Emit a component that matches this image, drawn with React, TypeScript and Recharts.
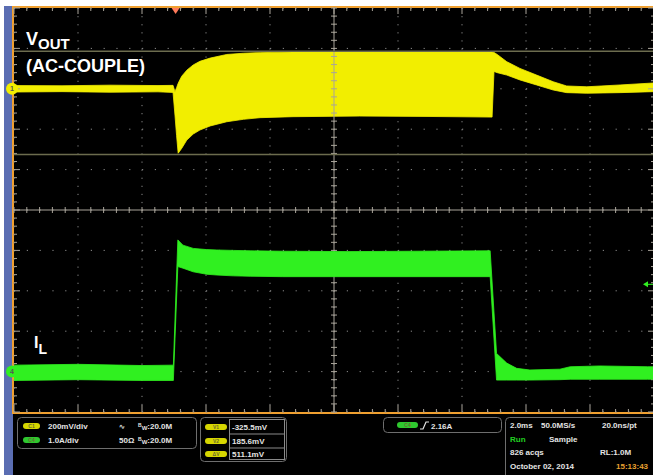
import React from "react";
import {
  ComposedChart,
  Area,
  XAxis,
  YAxis,
  CartesianGrid,
  ReferenceLine,
  ReferenceDot,
} from "recharts";

// horizontal: 2.0 ms/div, 10 divisions ; vertical: 10 divisions
const timeTicks = [0, 2, 4, 6, 8, 10, 12, 14, 16, 18, 20];
const divTicks = [-5, -4, -3, -2, -1, 0, 1, 2, 3, 4, 5];

// CH1 VOUT (AC couple), 200 mV/div, ground marker at +3 div
const ch1Offset = 3;
const ch1Scale = 200;
const voutTime = [0, 1.5, 3, 4.5, 4.97, 5.03, 5.08, 5.13, 5.24, 5.4, 5.6, 5.81, 6.13, 6.65, 7.17, 7.69, 8.72, 10.8, 13, 14.94, 15.0, 15.1, 15.4, 15.81, 16.33, 16.85, 17.27, 17.9, 18.94, 20];
const voutLow = [-16, -14, -17, -15, -18, -130, -230, -319, -295, -254, -224, -204, -184, -163, -151, -143, -138, -135, -137, -140, 86, 80, 68, 44, 19, -6, -19, -22, -19, -14];
const voutHigh = [16, 15, 18, 16, 17, -14, 5, 27, 62, 92, 118, 136, 152, 170, 176, 179, 182, 184, 183, 182, 180, 170, 134, 101, 68, 35, 14, 10, 19, 29];

// CH4 IL, 1.0 A/div, ground marker at -4 div
const ch4Offset = -4;
const ch4Scale = 1.0;
const ilTime = [0, 2, 4, 4.98, 5.12, 5.28, 5.6, 6.02, 6.34, 6.85, 7.38, 8.4, 10.5, 12.5, 14.88, 15.08, 15.4, 15.71, 16.12, 17.06, 17.38, 18.31, 19.8, 20];
const ilLow = [-0.22, -0.2, -0.22, -0.22, 2.6, 2.56, 2.47, 2.41, 2.39, 2.37, 2.36, 2.35, 2.35, 2.35, 2.35, -0.21, -0.21, -0.21, -0.21, -0.2, -0.19, -0.19, -0.19, -0.19];
const ilHigh = [0.16, 0.18, 0.15, 0.16, 3.26, 3.13, 3.05, 3.02, 3.01, 3.0, 2.99, 2.98, 2.97, 2.98, 2.99, 0.45, 0.21, 0.08, 0.04, 0.06, 0.12, 0.14, 0.12, 0.12];

// cursors (CH1) and trigger
const cursorV1 = -325.5;
const cursorV2 = 185.6;
const triggerTime = 5.05;
const triggerLevel = 2.16;

const voutData = voutTime.map((t, i) => ({
  t,
  v: [ch1Offset + voutLow[i] / ch1Scale, ch1Offset + voutHigh[i] / ch1Scale],
}));
const ilData = ilTime.map((t, i) => ({
  t,
  v: [ch4Offset + ilLow[i] / ch4Scale, ch4Offset + ilHigh[i] / ch4Scale],
}));

const W = 660;
const H = 475;
const margin = { top: 8, right: 6, bottom: 63, left: 14 };
const PX_T = 1 / 32; // one pixel in ms
const PX_D = 1 / 40.4; // one pixel in divisions

const YELLOW = "#f2ee00";
const GREEN = "#30f020";
const TICK = "#a9a49a";

const minorT = Array.from({ length: 51 }, (_, i) => i * 0.4);
const minorD = Array.from({ length: 51 }, (_, i) => -5 + i * 0.2);

// channel ground marker, sits on the left frame edge
const ChannelMarker = (props: any) => {
  const { cx, cy, fill, label } = props;
  const x = cx - 2;
  return (
    <g>
      <circle cx={x} cy={cy} r={6} fill={fill} />
      <text x={x} y={cy + 2.5} textAnchor="middle" fontSize={7} fontWeight="bold" fill="#555" fontFamily="Liberation Sans">
        {label}
      </text>
      <path d={`M${x + 8} ${cy - 2.5} L${x + 12} ${cy} L${x + 8} ${cy + 2.5}`} stroke={fill} fill="none" strokeWidth={1} />
    </g>
  );
};

const TriggerPos = (props: any) => {
  const { cx, cy } = props;
  return <path d={`M${cx - 4} ${cy} L${cx + 4} ${cy} L${cx} ${cy + 6} Z`} fill="#ff7a5a" />;
};

const TriggerLevel = (props: any) => {
  const { cx, cy } = props;
  return (
    <g>
      <path d={`M${cx - 3} ${cy} L${cx + 2} ${cy - 3} L${cx + 2} ${cy + 3} Z`} fill={GREEN} />
      <line x1={cx + 2} y1={cy} x2={cx + 8} y2={cy} stroke={GREEN} strokeWidth={1} />
    </g>
  );
};

const axes = (
  <>
    <XAxis type="number" dataKey="t" domain={[0, 20]} ticks={timeTicks} hide />
    <YAxis type="number" domain={[-5, 5]} ticks={divTicks} hide />
  </>
);

const ScopeGrid = () => (
  <ComposedChart width={W} height={H} margin={margin} data={voutData}>
    {axes}
    <CartesianGrid horizontal={false} stroke="#8a8a8a" strokeDasharray="1.2 6.88" />
    <CartesianGrid vertical={false} stroke="#8a8a8a" strokeDasharray="1.2 11.6" />
    <ReferenceLine x={10} stroke={TICK} strokeWidth={1} />
    <ReferenceLine y={0} stroke={TICK} strokeWidth={1} />
    {minorT.map((t, i) => (
      <ReferenceLine key={"c" + i} segment={[{ x: t, y: -3 * PX_D }, { x: t, y: 3 * PX_D }]} stroke={TICK} />
    ))}
    {minorD.map((d, i) => (
      <ReferenceLine key={"m" + i} segment={[{ x: 10 - 3 * PX_T, y: d }, { x: 10 + 3 * PX_T, y: d }]} stroke={TICK} />
    ))}
    {minorT.map((t, i) => (
      <ReferenceLine key={"t" + i} segment={[{ x: t, y: 5 }, { x: t, y: 5 - (i % 5 === 0 ? 6 : 3) * PX_D }]} stroke={TICK} />
    ))}
    {minorT.map((t, i) => (
      <ReferenceLine key={"b" + i} segment={[{ x: t, y: -5 }, { x: t, y: -5 + (i % 5 === 0 ? 7 : 3) * PX_D }]} stroke={TICK} />
    ))}
    {minorD.map((d, i) => (
      <ReferenceLine key={"l" + i} segment={[{ x: 0, y: d }, { x: (i % 5 === 0 ? 6 : 3) * PX_T, y: d }]} stroke={TICK} />
    ))}
    {minorD.map((d, i) => (
      <ReferenceLine key={"r" + i} segment={[{ x: 20, y: d }, { x: 20 - (i % 5 === 0 ? 6 : 3) * PX_T, y: d }]} stroke={TICK} />
    ))}
    <ReferenceLine y={ch1Offset + cursorV1 / ch1Scale} stroke="#6c6c4e" strokeWidth={1.5} />
    <ReferenceLine y={ch1Offset + cursorV2 / ch1Scale} stroke="#6c6c4e" strokeWidth={1.5} />
    <Area
      type="linear"
      dataKey="v"
      stroke={YELLOW}
      strokeWidth={0.8}
      fill={YELLOW}
      fillOpacity={1}
      isAnimationActive={false}
      dot={false}
      activeDot={false}
    />
    <ReferenceDot x={triggerTime} y={5} r={4} ifOverflow="visible" shape={(p: any) => <TriggerPos {...p} />} />
    <ReferenceDot
      x={0}
      y={ch1Offset}
      r={6}
      ifOverflow="visible"
      shape={(p: any) => <ChannelMarker {...p} fill={YELLOW} label="1" />}
    />
  </ComposedChart>
);

const CurrentTrace = () => (
  <ComposedChart width={W} height={H} margin={margin} data={ilData}>
    {axes}
    <Area
      type="linear"
      dataKey="v"
      stroke={GREEN}
      strokeWidth={0.8}
      fill={GREEN}
      fillOpacity={1}
      isAnimationActive={false}
      dot={false}
      activeDot={false}
    />
    <ReferenceDot
      x={0}
      y={ch4Offset}
      r={6}
      ifOverflow="visible"
      shape={(p: any) => <ChannelMarker {...p} fill={GREEN} label="4" />}
    />
    <ReferenceDot
      x={19.75}
      y={ch4Offset + triggerLevel / ch4Scale}
      r={3}
      ifOverflow="visible"
      shape={(p: any) => <TriggerLevel {...p} />}
    />
  </ComposedChart>
);

const F = "Liberation Sans, Arial, sans-serif";
const TXT = "#e4e4e4";

const Pill = ({ x, y, w, fill, label }: any) => (
  <g>
    <rect x={x} y={y} width={w} height={6} rx={3} fill={fill} />
    <text x={x + w / 2} y={y + 5} textAnchor="middle" fontSize={5} fontWeight="bold" fill="#6a6a30" fontFamily={F}>
      {label}
    </text>
  </g>
);

const BW = ({ x, y }: any) => (
  <text x={x} y={y} fontSize={8} fontWeight="bold" fill={TXT} fontFamily={F}>
    <tspan fontSize={5} dy={-2}>B</tspan>
    <tspan fontSize={6} dy={3}>W</tspan>
    <tspan dy={-1}>:20.0M</tspan>
  </text>
);

const Overlay = () => (
  <svg width={653} height={475} style={{ position: "absolute", left: 0, top: 0, pointerEvents: "none" }}>
    {/* channel labels */}
    <text x={26} y={45} fill="#fff" fontFamily={F} fontWeight="bold" fontSize={18}>
      V<tspan fontSize={15} dy={4}>OUT</tspan>
    </text>
    <text x={26} y={72} fill="#fff" fontFamily={F} fontWeight="bold" fontSize={18}>
      (AC-COUPLE)
    </text>
    <text x={34} y={348} fill="#fff" fontFamily={F} fontWeight="bold" fontSize={16}>
      I<tspan fontSize={14} dy={6}>L</tspan>
    </text>

    {/* status bar */}
    <g fontFamily={F} fontWeight="bold" fontSize={8} fill={TXT}>
      <rect x={17.5} y={417.5} width={179} height={31} rx={4} fill="none" stroke="#6e6e6e" />
      <Pill x={23} y={423} w={17} fill="#d6d600" label="C1" />
      <text x={48} y={429}>200mV/div</text>
      <text x={119} y={429} fontSize={7}>∿</text>
      <BW x={138} y={429} />
      <Pill x={23} y={437} w={17} fill="#2fc82f" label="C4" />
      <text x={48} y={443}>1.0A/div</text>
      <text x={119} y={443}>50Ω</text>
      <BW x={138} y={443} />

      <rect x={200.5} y={417.5} width={86} height={44} rx={4} fill="none" stroke="#6e6e6e" />
      <rect x={229.5} y={419.5} width={55} height={40} fill="none" stroke="#8a8a8a" />
      <line x1={229.5} y1={434} x2={284.5} y2={434} stroke="#8a8a8a" />
      <line x1={229.5} y1={448} x2={284.5} y2={448} stroke="#8a8a8a" />
      <Pill x={205} y={424} w={22} fill="#d6d600" label="V1" />
      <text x={232} y={430}>-325.5mV</text>
      <Pill x={205} y={438} w={22} fill="#d6d600" label="V2" />
      <text x={232} y={444}>185.6mV</text>
      <Pill x={205} y={451} w={22} fill="#d6d600" label="ΔV" />
      <text x={232} y={457}>511.1mV</text>

      <rect x={383.5} y={417.5} width={118} height={15} rx={4} fill="none" stroke="#6e6e6e" />
      <Pill x={397} y={422} w={21} fill="#2fc82f" label="C4" />
      <path d="M420 429 L423 429 L426 422 L429 422" stroke={TXT} fill="none" strokeWidth={1.2} />
      <text x={431} y={429}>2.16A</text>

      <rect x={505.5} y={417.5} width={160} height={70} rx={4} fill="none" stroke="#6e6e6e" />
      <text x={510} y={428}>2.0ms</text>
      <text x={541} y={428}>50.0MS/s</text>
      <text x={602} y={428}>20.0ns/pt</text>
      <text x={510} y={442} fill="#22d022">Run</text>
      <text x={549} y={442}>Sample</text>
      <text x={510} y={455}>826 acqs</text>
      <text x={600} y={455}>RL:1.0M</text>
      <text x={510} y={469}>October 02, 2014</text>
      <text x={616} y={469} fill="#e8a030">15:13:43</text>
    </g>
  </svg>
);

export default function App() {
  return (
    <div
      style={{
        position: "absolute",
        left: 0,
        top: 0,
        width: 653,
        height: 475,
        overflow: "hidden",
        background: "#fff",
      }}
    >
      <div style={{ position: "absolute", left: 13, top: 6, width: 640, height: 469, background: "#000" }} />
      <div style={{ position: "absolute", left: 4, top: 6, width: 9, height: 469, background: "#5a6db2" }} />
      <div
        style={{
          position: "absolute",
          left: 12,
          top: 6,
          width: 700,
          height: 408,
          boxSizing: "border-box",
          border: "2px solid #f0a030",
        }}
      />
      <div style={{ position: "absolute", left: 0, top: 0 }}>
        <ScopeGrid />
      </div>
      <div style={{ position: "absolute", left: 0, top: 0 }}>
        <CurrentTrace />
      </div>
      <Overlay />
    </div>
  );
}
